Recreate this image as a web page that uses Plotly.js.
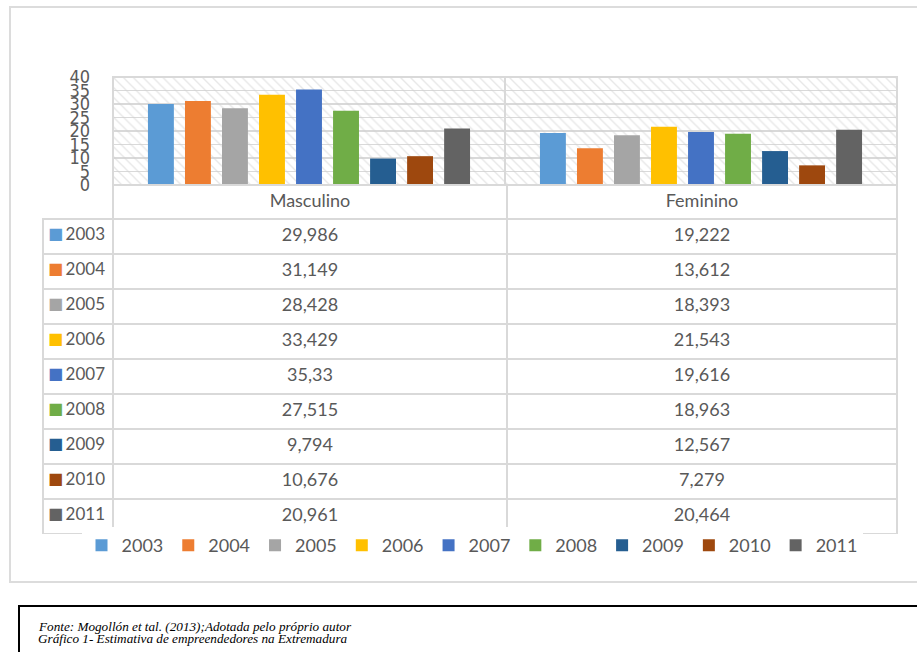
<!DOCTYPE html>
<html><head><meta charset="utf-8">
<script src="https://cdn.plot.ly/plotly-3.0.1.min.js"></script>
<style>html,body{margin:0;padding:0;background:#fff;}</style>
</head><body><div id="chart" style="width:917px;height:652px;"></div>
<script>
const categories = ['Masculino', 'Feminino'];
const years = ['2003', '2004', '2005', '2006', '2007', '2008', '2009', '2010', '2011'];
const masculino = [29.986, 31.149, 28.428, 33.429, 35.33, 27.515, 9.794, 10.676, 20.961];
const feminino = [19.222, 13.612, 18.393, 21.543, 19.616, 18.963, 12.567, 7.279, 20.464];
const colors = ['#5B9BD5', '#ED7D31', '#A5A5A5', '#FFC000', '#4472C4', '#70AD47', '#255E91', '#9E480E', '#636363'];
const yTicks = [0, 5, 10, 15, 20, 25, 30, 35, 40];
const captionLines = ['Fonte: Mogollón et tal. (2013);Adotada pelo próprio autor',
                      'Gráfico 1- Estimativa de empreendedores na Extremadura'];

const W = 917, H = 652;
const px = x => x / W;
const py = y => 1 - y / H;
const yMax = yTicks[yTicks.length - 1];
const textColor = '#595959';
const gridColor = '#d9d9d9';
const mainFont = 'Lato, "Open Sans", sans-serif';
const fmt = v => String(v).replace('.', ',');
const none = 'rgba(0,0,0,0)';

const traces = [];
// hatched plot background
traces.push({
  type: 'bar', x: categories, y: categories.map(() => yMax), width: categories.map(() => 1),
  xaxis: 'x', yaxis: 'y', showlegend: false, hoverinfo: 'skip',
  marker: { color: none, line: { width: 0 },
    pattern: { shape: '\\', fgcolor: '#d0d0d0', bgcolor: none, size: 7, solidity: 0.2, fillmode: 'overlay' } }
});
years.forEach((yr, i) => {
  traces.push({
    type: 'bar', name: yr, x: categories, y: [masculino[i], feminino[i]],
    xaxis: 'x2', yaxis: 'y2', marker: { color: colors[i], line: { width: 0 } }
  });
});
// data table
traces.push({
  type: 'table',
  domain: { x: [px(43), px(897)], y: [py(534), py(185)] },
  columnwidth: [70, 394, 390],
  header: {
    values: [[''], [categories[0]], [categories[1]]],
    height: 34, align: 'center',
    font: { family: mainFont, size: 18, color: textColor },
    fill: { color: [none, 'white', 'white'] },
    line: { color: [none, gridColor, gridColor], width: 2 }
  },
  cells: {
    values: [years, masculino.map(fmt), feminino.map(fmt)],
    height: 35, align: ['right', 'center', 'center'],
    font: { family: mainFont, size: [17, 18, 18], color: textColor },
    fill: { color: 'white' },
    line: { color: gridColor, width: 2 }
  }
});
// legend keys inside the table's first column
traces.push({
  type: 'table',
  domain: { x: [px(40), px(80)], y: [py(534), py(185)] },
  header: {
    values: [['']], height: 34,
    fill: { color: none }, line: { color: none, width: 0 }
  },
  cells: {
    values: [years.map(() => '■')],
    height: 35, align: 'left',
    font: { family: '"DejaVu Sans", sans-serif', size: 16, color: [colors] },
    fill: { color: none },
    line: { color: none, width: 0 }
  }
});

const layout = {
  width: W, height: H, margin: { l: 0, r: 0, t: 0, b: 0 },
  paper_bgcolor: 'white', plot_bgcolor: 'white',
  barmode: 'group', bargap: 0.15, bargroupgap: 0.3,
  showlegend: true,
  legend: { orientation: 'h', x: px(472), xanchor: 'center', y: py(527), yanchor: 'top',
    font: { family: mainFont, size: 18, color: textColor }, itemwidth: 30, traceorder: 'normal' },
  xaxis: { domain: [px(113), px(897)], type: 'category', range: [-0.5, 1.5], showticklabels: false,
    showgrid: false, zeroline: false, showline: false },
  yaxis: { domain: [py(185), py(77)], range: [0, yMax], tickvals: yTicks, ticktext: yTicks.map(String),
    showgrid: true, gridcolor: gridColor, gridwidth: 1.5, zeroline: false, showline: false,
    ticklabelstandoff: 22,
    tickfont: { family: '"Liberation Sans Narrow", "DejaVu Sans Condensed", sans-serif', size: 18, color: textColor } },
  xaxis2: { overlaying: 'x', type: 'category', range: [-0.5, 1.5], visible: false, categoryarray: categories },
  yaxis2: { overlaying: 'y', range: [0, yMax], visible: false },
  shapes: [
    { type: 'rect', xref: 'paper', yref: 'paper', x0: px(10), x1: px(935), y0: py(582), y1: py(7),
      line: { color: '#dcdcdc', width: 2 } },
    { type: 'rect', xref: 'paper', yref: 'paper', x0: px(113), x1: px(897), y0: py(185), y1: py(77),
      line: { color: gridColor, width: 2 } },
    { type: 'line', xref: 'x', yref: 'paper', x0: 0.5, x1: 0.5, y0: py(185), y1: py(77),
      line: { color: gridColor, width: 2 } },
    { type: 'rect', xref: 'paper', yref: 'paper', x0: px(19), x1: px(935), y0: py(670), y1: py(606),
      line: { color: 'black', width: 2 } }
  ],
  annotations: captionLines.map((t, i) => ({
    text: '<i>' + t + '</i>', xref: 'paper', yref: 'paper', x: px(36), y: py(626 + i * 12), xanchor: 'left', yanchor: 'middle',
    showarrow: false, font: { family: '"Liberation Serif", "Times New Roman", serif', size: 13.2, color: 'black' }
  }))
};

Plotly.newPlot('chart', traces, layout, { displayModeBar: false, staticPlot: true });
</script>
</body></html>
